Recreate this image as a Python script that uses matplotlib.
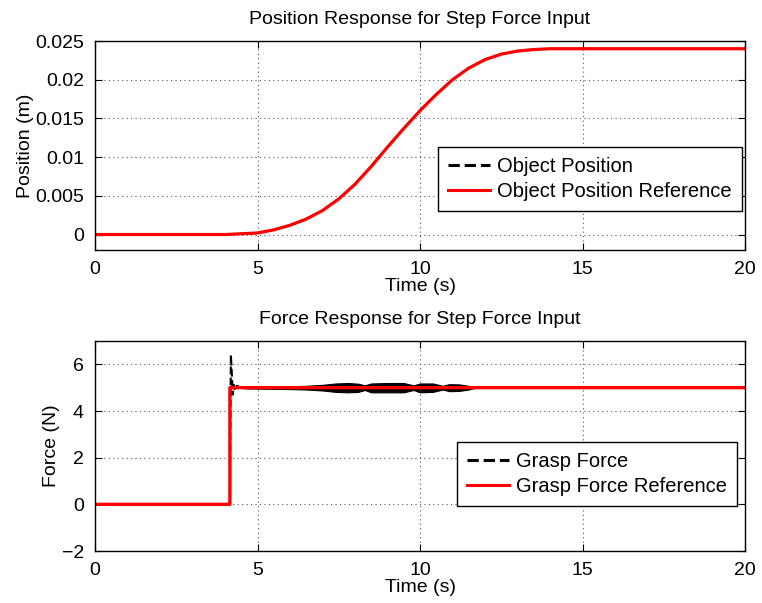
import matplotlib
matplotlib.use("Agg")
import matplotlib.pyplot as plt
from matplotlib.lines import Line2D

plt.rcParams['font.family'] = ['Liberation Sans', 'DejaVu Sans']
plt.rcParams['font.size'] = 14

# Position response
pos_t = [0, 4.0, 4.5, 5.0, 5.5, 6.0, 6.5, 7.0, 7.5, 8.0, 8.5, 9.0, 9.5, 10.0,
         10.5, 11.0, 11.5, 12.0, 12.5, 13.0, 13.5, 14.0, 20.0]
pos_ref = [0, 0, 0.0001, 0.0002, 0.0006, 0.0012, 0.0020, 0.0031, 0.0046, 0.0065,
           0.0088, 0.0113, 0.0137, 0.0160, 0.0181, 0.0200, 0.0215, 0.0226,
           0.0233, 0.0237, 0.0239, 0.0240, 0.0240]
pos_obj = list(pos_ref)

# Force response
frc_ref_t = [0, 4.15, 4.15, 20]
frc_ref = [0, 0, 5.0, 5.0]
frc_t = [0, 4.15, 4.18, 4.21, 4.24, 4.27, 4.31, 4.36, 4.45, 4.6, 20]
frc = [0, 0, 6.4, 5.6, 4.7, 5.12, 4.9, 5.08, 5.03, 5.0, 5.0]

# Noise envelope of the measured grasp force
band_t = [4.6, 5.0, 6.0, 6.5, 7.0, 7.4, 7.8, 8.1, 8.3, 8.5, 9.0, 9.5, 9.8, 10.0,
          10.4, 10.7, 10.9, 11.2, 11.5, 11.7]
band_hi = [5.03, 5.04, 5.06, 5.08, 5.12, 5.18, 5.2, 5.17, 5.1, 5.18, 5.2, 5.2, 5.1,
           5.18, 5.18, 5.08, 5.15, 5.14, 5.08, 5.0]
band_lo = [4.97, 4.96, 4.94, 4.92, 4.88, 4.82, 4.8, 4.82, 4.9, 4.8, 4.8, 4.8, 4.9,
           4.8, 4.82, 4.92, 4.85, 4.86, 4.92, 5.0]

fig = plt.figure(figsize=(7.62, 6.03), dpi=100)
ax1 = fig.add_axes([0.1247, 0.5854, 0.853, 0.3466])
ax2 = fig.add_axes([0.1247, 0.0862, 0.853, 0.3483])

def style(ax):
    ax.grid(True, linestyle=(0, (1, 3)), color='#555555', linewidth=0.8)
    ax.tick_params(direction='in', top=True, right=True, length=5, width=0.8,
                   labelsize=14, pad=8)
    for s in ax.spines.values():
        s.set_linewidth(1.0)
    ax.set_xlim(0, 20)
    ax.set_xticks([0, 5, 10, 15, 20])
    ax.set_xlabel('Time (s)', fontsize=14, labelpad=0)

legkw = dict(loc='lower right', fancybox=False, edgecolor='black', framealpha=1,
             fontsize=14.5, handlelength=2.1, borderpad=0.5, labelspacing=0.3,
             handletextpad=0.35, borderaxespad=0)

def handles():
    return [Line2D([], [], color='black', linestyle='--', linewidth=2.2),
            Line2D([], [], color='red', linewidth=2.2)]

ax1.plot(pos_t, pos_obj, color='black', linestyle='--', linewidth=1.4, snap=False)
ax1.plot(pos_t, pos_ref, color='red', linewidth=2.3, snap=False)
style(ax1)
ax1.set_ylim(-0.002, 0.025)
ax1.set_yticks([0, 0.005, 0.01, 0.015, 0.02, 0.025])
ax1.set_yticklabels(['0', '0.005', '0.01', '0.015', '0.02', '0.025'])
ax1.set_ylabel('Position (m)', fontsize=14, labelpad=1)
ax1.set_title('Position Response for Step Force Input', fontsize=14, pad=12)
leg1 = ax1.legend(handles(), ['Object Position', 'Object Position Reference'],
                  bbox_to_anchor=(0.995, 0.188), **legkw)
leg1.get_frame().set_linewidth(1.0)

ax2.fill_between(band_t, band_lo, band_hi, color='black', linewidth=0.8, edgecolor='black')
ax2.plot(frc_t, frc, color='black', linestyle='--', linewidth=1.5, snap=False)
ax2.plot(frc_ref_t, frc_ref, color='red', linewidth=2.4, snap=False)
style(ax2)
ax2.set_ylim(-2, 7)
ax2.set_yticks([-2, 0, 2, 4, 6])
ax2.set_yticklabels(['\u22122', '0', '2', '4', '6'])
ax2.set_ylabel('Force (N)', fontsize=14, labelpad=1)
ax2.set_title('Force Response for Step Force Input', fontsize=14, pad=12)
leg2 = ax2.legend(handles(), ['Grasp Force', 'Grasp Force Reference'],
                  bbox_to_anchor=(0.988, 0.214), **legkw)
leg2.get_frame().set_linewidth(1.0)

fig.savefig('out.png', dpi=100)
